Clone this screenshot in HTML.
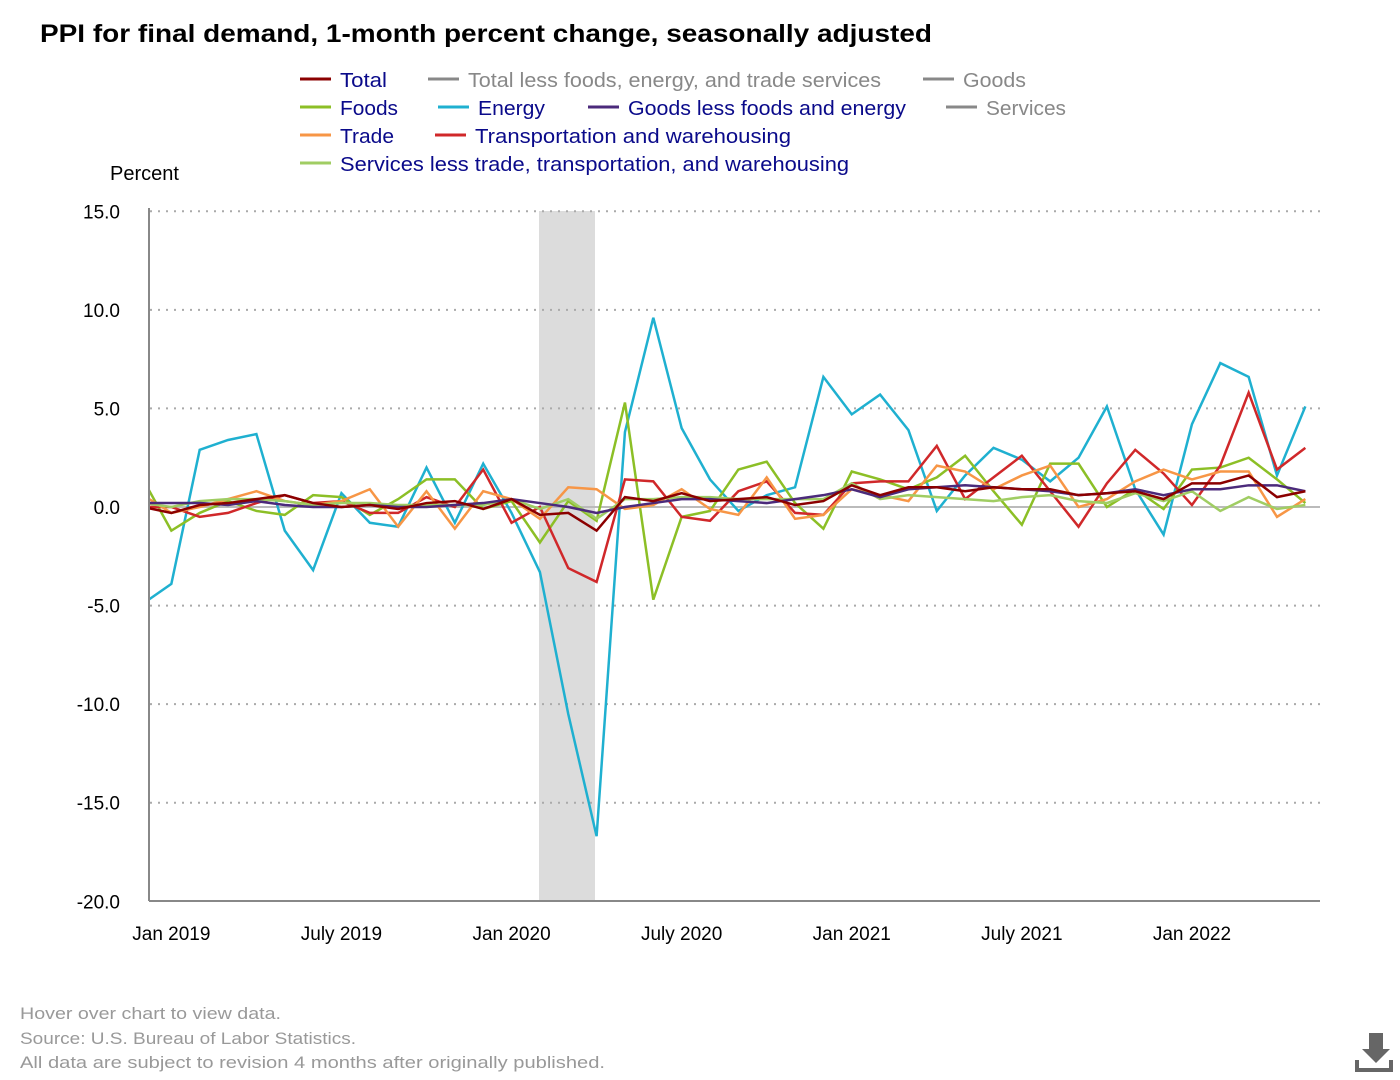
<!DOCTYPE html>
<html><head><meta charset="utf-8"><style>
body{margin:0;background:#fff;font-family:"Liberation Sans",sans-serif;}
#wrap{position:relative;width:1400px;height:1080px;overflow:hidden;}
</style></head><body>
<div id="wrap">
<svg id="svg" width="1400" height="1080">
<text x="40" y="42" font-size="25" font-weight="bold" fill="#000" textLength="892" lengthAdjust="spacingAndGlyphs">PPI for final demand, 1-month percent change, seasonally adjusted</text>
<text x="110" y="180" font-size="20" fill="#000">Percent</text>
<rect x="539" y="211" width="56" height="690" fill="#dcdcdc"/>
<g id="grid"></g>
<g id="series" clip-path="url(#clip)"></g>
<defs><clipPath id="clip"><rect x="150" y="150" width="1170" height="760"/></clipPath></defs>
<line x1="149" y1="208" x2="149" y2="901" stroke="#888" stroke-width="2"/>
<line x1="149" y1="901" x2="1320" y2="901" stroke="#888" stroke-width="2"/>
<g id="legend"></g>
<text x="20" y="1019" font-size="17" fill="#999" textLength="261" lengthAdjust="spacingAndGlyphs">Hover over chart to view data.</text>
<text x="20" y="1044" font-size="17" fill="#999" textLength="336" lengthAdjust="spacingAndGlyphs">Source: U.S. Bureau of Labor Statistics.</text>
<text x="20" y="1068" font-size="17" fill="#999" textLength="585" lengthAdjust="spacingAndGlyphs">All data are subject to revision 4 months after originally published.</text>
<g>
<rect x="1369" y="1033" width="14" height="16" fill="#666"/>
<polygon points="1362,1049 1390,1049 1376,1063" fill="#666"/>
<rect x="1355" y="1068" width="38" height="4" fill="#666"/>
<rect x="1355" y="1060" width="4" height="10" fill="#666"/>
<rect x="1389" y="1060" width="4" height="10" fill="#666"/>
</g>
</svg>
</div>
<script>
const yTicks=[15,10,5,0,-5,-10,-15,-20];
const yTickLabels=["15.0","10.0","5.0","0.0","-5.0","-10.0","-15.0","-20.0"];
const xTickIndex=[1,7,13,19,25,31,37];
const xTickLabels=["Jan 2019","July 2019","Jan 2020","July 2020","Jan 2021","July 2021","Jan 2022"];
const total=[0.0,-0.3,0.1,0.2,0.4,0.6,0.2,0.0,0.1,-0.1,0.2,0.3,-0.1,0.4,-0.4,-0.3,-1.2,0.5,0.3,0.7,0.3,0.4,0.5,0.1,0.3,1.1,0.6,1.0,1.0,0.8,1.0,0.9,0.9,0.6,0.7,0.8,0.4,1.2,1.2,1.6,0.5,0.8];
const foods=[1.4,-1.2,-0.3,0.3,-0.2,-0.4,0.6,0.5,-0.4,0.4,1.4,1.4,-0.1,0.3,-1.8,0.3,-0.7,5.3,-4.7,-0.5,-0.2,1.9,2.3,0.2,-1.1,1.8,1.4,0.9,1.5,2.6,0.8,-0.9,2.2,2.2,0.0,0.9,-0.1,1.9,2.0,2.5,1.4,0.2];
const energy=[-4.9,-3.9,2.9,3.4,3.7,-1.2,-3.2,0.7,-0.8,-1.0,2.0,-0.8,2.2,-0.3,-3.3,-10.5,-16.7,3.8,9.6,4.0,1.4,-0.2,0.6,1.0,6.6,4.7,5.7,3.9,-0.2,1.6,3.0,2.4,1.3,2.5,5.1,0.9,-1.4,4.2,7.3,6.6,1.6,5.1];
const goodsLess=[0.2,0.2,0.2,0.1,0.3,0.1,0.0,0.0,0.1,0.0,0.0,0.1,0.2,0.4,0.2,0.0,-0.3,0.0,0.2,0.4,0.4,0.3,0.2,0.4,0.6,0.9,0.5,0.9,1.0,1.1,1.0,0.9,0.8,0.6,0.7,0.9,0.6,0.9,0.9,1.1,1.1,0.8];
const trade=[0.6,-0.3,0.0,0.4,0.8,0.3,0.1,0.3,0.9,-1.0,0.8,-1.1,0.8,0.4,-0.6,1.0,0.9,-0.1,0.1,0.9,-0.1,-0.4,1.5,-0.6,-0.4,0.9,0.6,0.3,2.1,1.8,0.9,1.6,2.1,0.0,0.4,1.3,1.9,1.4,1.8,1.8,-0.5,0.4];
const transport=[0.0,0.0,-0.5,-0.3,0.2,0.6,0.2,0.3,-0.3,-0.3,0.5,0.0,1.9,-0.8,0.0,-3.1,-3.8,1.4,1.3,-0.5,-0.7,0.8,1.3,-0.3,-0.4,1.2,1.3,1.3,3.1,0.4,1.5,2.6,0.8,-1.0,1.2,2.9,1.7,0.1,2.1,5.8,1.9,3.0];
const servLess=[0.2,0.0,0.3,0.4,0.4,0.3,0.1,0.2,0.2,0.1,0.1,0.1,0.1,0.4,-0.1,0.4,-0.6,0.4,0.4,0.5,0.5,0.4,0.4,0.4,0.4,1.2,0.4,0.6,0.5,0.4,0.3,0.5,0.6,0.3,0.2,0.7,0.3,0.8,-0.2,0.5,-0.1,0.1];
const seriesNames=["Total","Foods","Energy","Goods less foods and energy","Trade","Transportation and warehousing","Services less trade, transportation, and warehousing"];
const NS="http://www.w3.org/2000/svg";
const X=i=>143+i*28.35;
const Y=v=>507-v*19.714;
function mk(tag,attrs,parent){const e=document.createElementNS(NS,tag);for(const k in attrs)e.setAttribute(k,attrs[k]);parent.appendChild(e);return e;}
const grid=document.getElementById('grid');
yTicks.forEach((t,i)=>{
  if(t!==-20){
    const l=mk('line',{x1:150,x2:1320,y1:Y(t),y2:Y(t),stroke:t===0?'#bbb':'#aaa','stroke-width':2,'stroke-dasharray':t===0?'none':'2,6'},grid);
    
    
  }
  const tx=mk('text',{x:120,y:Y(t)+7,'font-size':19,'text-anchor':'end',fill:'#000'},grid);
  tx.textContent=yTickLabels[i];
  
  
});
xTickIndex.forEach((ix,i)=>{
  const tx=mk('text',{x:X(ix),y:940,'font-size':19,'text-anchor':'middle',fill:'#000'},grid);
  tx.textContent=xTickLabels[i];
  
  
});
const sg=document.getElementById('series');
const data=[total,foods,energy,goodsLess,trade,transport,servLess];
const colors=["#8b0000","#8cbf26","#1fb0d0","#4b2a7b","#f79646","#d0282a","#a0cd63"];
const order=[2,1,5,4,6,3,0];
order.forEach(k=>{
  const p=mk('polyline',{points:data[k].map((v,i)=>X(i)+','+Y(v)).join(' '),fill:'none',stroke:colors[k],'stroke-width':2.5,'stroke-linejoin':'miter'},sg);
  
  
});
const lg=document.getElementById('legend');
const legendItems=[
 ["Total","#8b0000",300,81,true,47],["Total less foods, energy, and trade services","#888",428,81,false,413],["Goods","#888",923,81,false,63],
 ["Foods","#8cbf26",300,109,true,58],["Energy","#1fb0d0",438,109,true,67],["Goods less foods and energy","#4b2a7b",588,109,true,278],["Services","#888",946,109,false,80],
 ["Trade","#f79646",300,137,true,54],["Transportation and warehousing","#d0282a",435,137,true,316],
 ["Services less trade, transportation, and warehousing","#a0cd63",300,165,true,509]];
legendItems.forEach(it=>{
  const g=mk('g',{},lg);
  
  
  mk('line',{x1:it[2],x2:it[2]+31,y1:it[3]-2,y2:it[3]-2,stroke:it[1],'stroke-width':3},g);
  const t=mk('text',{x:it[2]+40,y:it[3]+6,'font-size':20,fill:it[4]?'#0a0a8a':'#888',textLength:it[5],lengthAdjust:'spacingAndGlyphs'},g);
  t.textContent=it[0];
});
</script>
</body></html>
